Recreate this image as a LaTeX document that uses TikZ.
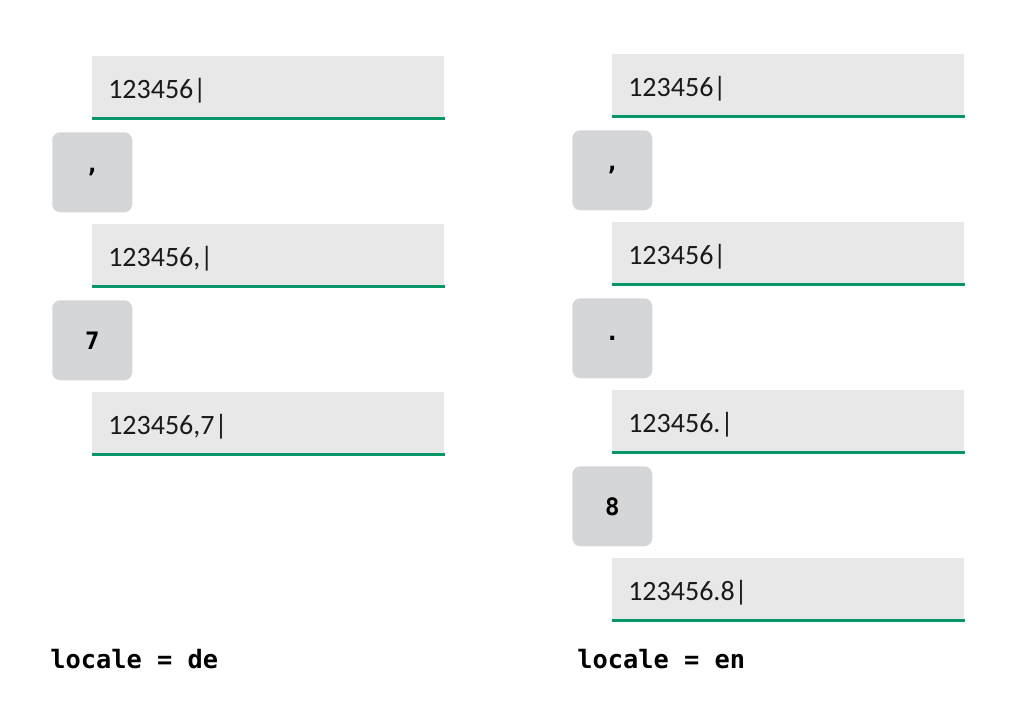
\documentclass[tikz,border=0pt]{standalone}
\usepackage{fontspec}
\setmainfont{Carlito}
\setmonofont{DejaVu Sans Mono}
\usepackage{tikz}

\definecolor{fieldgray}{HTML}{E8E8E8}
\definecolor{keygray}{HTML}{D5D6D8}
\definecolor{linegreen}{HTML}{079669}
\definecolor{textblack}{HTML}{1A1A1A}

\tikzset{
  field/.style={fill=fieldgray, anchor=north west, minimum width=264pt,
    minimum height=46.5pt, inner sep=0pt, text=textblack,
    font=\fontsize{21}{24}\selectfont,
    append after command={(\tikzlastnode.south west) edge[underline] (\tikzlastnode.south east)}},
  underline/.style={draw=linegreen, line width=1.6pt},
  fieldtext/.style={anchor=west, inner sep=0pt, text=textblack,
    font=\fontsize{21}{24}\selectfont},
  key/.style={fill=keygray, rounded corners=6pt, anchor=north west,
    minimum width=60pt, minimum height=60pt, inner sep=0pt,
    font=\ttfamily\bfseries\fontsize{18}{21}\selectfont},
  caption/.style={anchor=base west, inner sep=0pt,
    font=\ttfamily\bfseries\fontsize{19}{22}\selectfont}
}

\begin{document}
\begin{tikzpicture}[x=0.75pt, y=-0.75pt]
  \useasboundingbox (0,0) rectangle (1012,724);

  % locale = de
  \node [field] (de1) at (92,56) {};
  \node [fieldtext] (de1t) at (108,91) {123456|};
  \node [key] (dek1) at (52,132) {,};
  \node [field] (de2) at (92,224) {};
  \node [fieldtext] (de2t) at (108,259) {123456,|};
  \node [key] (dek2) at (52,300) {7};
  \node [field] (de3) at (92,392) {};
  \node [fieldtext] (de3t) at (108,427) {123456,7|};
  \node [caption] (decap) at (50,668) {locale = de};

  % locale = en
  \node [field] (en1) at (612,54) {};
  \node [fieldtext] (en1t) at (628,89) {123456|};
  \node [key] (enk1) at (572,130) {,};
  \node [field] (en2) at (612,222) {};
  \node [fieldtext] (en2t) at (628,257) {123456|};
  \node [key] (enk2) at (572,298) {.};
  \node [field] (en3) at (612,390) {};
  \node [fieldtext] (en3t) at (628,425) {123456.|};
  \node [key] (enk3) at (572,466) {8};
  \node [field] (en4) at (612,558) {};
  \node [fieldtext] (en4t) at (628,593) {123456.8|};
  \node [caption] (encap) at (577,668) {locale = en};
\end{tikzpicture}
\end{document}
